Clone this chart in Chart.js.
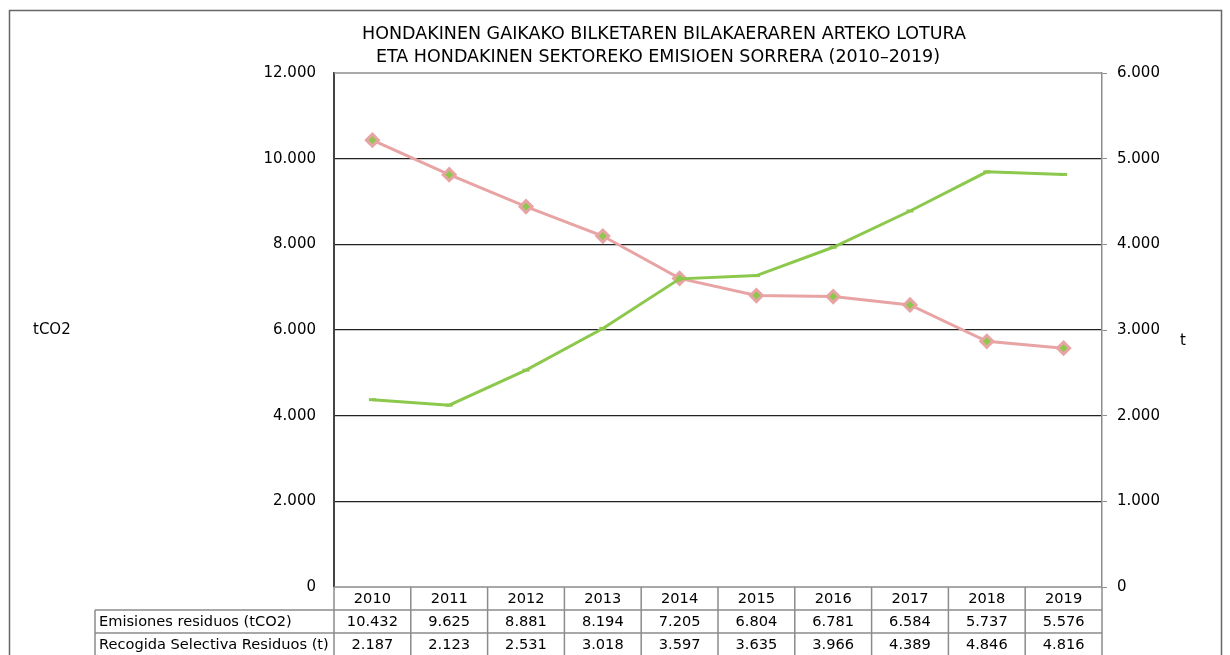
<!DOCTYPE html>
<html>
<head>
<meta charset="utf-8">
<script src="https://cdn.jsdelivr.net/npm/chart.js@4/dist/chart.umd.min.js"></script>
<style>
  html, body { margin: 0; padding: 0; background: #fff; }
  #wrap { width: 1230px; height: 655px; position: relative; }
</style>
</head>
<body>
<div id="wrap"><canvas id="chart" width="1230" height="655"></canvas></div>
<script>
/* ── DATA ─────────────────────────────────── */
const years = ['2010', '2011', '2012', '2013', '2014', '2015', '2016', '2017', '2018', '2019'];
const emisiones = [10432, 9625, 8881, 8194, 7205, 6804, 6781, 6584, 5737, 5576];
const recogida  = [2187, 2123, 2531, 3018, 3597, 3635, 3966, 4389, 4846, 4816];
const emisionesLabel = 'Emisiones residuos (tCO2)';
const recogidaLabel  = 'Recogida Selectiva Residuos (t)';
const titleLines = [
    'HONDAKINEN GAIKAKO BILKETAREN BILAKAERAREN ARTEKO LOTURA',
    'ETA HONDAKINEN SEKTOREKO EMISIOEN SORRERA (2010–2019)'
];

const FONT = '"DejaVu Sans", sans-serif';
const PINK  = '#e8a4a4';
const GREEN = '#8cc84b';

const fmt = v => Number(v).toLocaleString('de-DE');

/* ── DECORATIONS: frame, title, axis titles, data table ── */
const decorPlugin = {
    id: 'decor',
    beforeDraw(chart) {
        const ctx = chart.ctx;
        ctx.save();
        ctx.fillStyle = '#fff';
        ctx.fillRect(0, 0, chart.width, chart.height);
        ctx.strokeStyle = '#666';
        ctx.lineWidth = 1.5;
        ctx.strokeRect(9.5, 10.5, 1212, 700);
        ctx.restore();
    },
    afterDraw(chart) {
        const ctx = chart.ctx;
        const area = chart.chartArea;
        const xs = chart.scales.x;
        ctx.save();

        // title
        ctx.fillStyle = '#000';
        ctx.font = '17.5px ' + FONT;
        ctx.textAlign = 'center';
        ctx.textBaseline = 'middle';
        ctx.fillText(titleLines[0], 664, 34);
        ctx.fillText(titleLines[1], 658, 57);

        // axis titles
        ctx.font = '15px ' + FONT;
        ctx.textAlign = 'left';
        ctx.fillText('tCO2', 33, 330);
        ctx.fillText('t', 1180, 341);

        // table
        const colW = (area.right - area.left) / years.length;
        const rowH = 23;
        const top = area.bottom;
        const labelLeft = 95;
        ctx.strokeStyle = '#8c8c8c';
        ctx.lineWidth = 1.5;
        ctx.beginPath();
        ctx.moveTo(area.left, top); ctx.lineTo(area.right, top);
        for (let r = 1; r <= 2; r++) {
            ctx.moveTo(labelLeft, top + r * rowH); ctx.lineTo(area.right, top + r * rowH);
        }
        ctx.moveTo(labelLeft, top + rowH); ctx.lineTo(labelLeft, chart.height);
        for (let i = 0; i <= years.length; i++) {
            const x = area.left + i * colW;
            ctx.moveTo(x, top); ctx.lineTo(x, chart.height);
        }
        ctx.stroke();

        ctx.font = '14.6px ' + FONT;
        ctx.fillStyle = '#000';
        ctx.textAlign = 'center';
        years.forEach((y, i) => {
            const cx = xs.getPixelForValue(i);
            ctx.fillText(y, cx, top + rowH / 2 + 1);
            ctx.fillText(fmt(emisiones[i]), cx, top + rowH * 1.5 + 1);
            ctx.fillText(fmt(recogida[i]), cx, top + rowH * 2.5 + 1);
        });
        ctx.textAlign = 'left';
        ctx.fillText(emisionesLabel, labelLeft + 4, top + rowH * 1.5 + 1);
        ctx.fillText(recogidaLabel, labelLeft + 4, top + rowH * 2.5 + 1);

        // top frame of plot area
        ctx.strokeStyle = '#8c8c8c';
        ctx.lineWidth = 1.5;
        ctx.beginPath();
        ctx.moveTo(area.left, area.top); ctx.lineTo(area.right, area.top);
        ctx.stroke();
        ctx.restore();
    }
};

new Chart(document.getElementById('chart'), {
    type: 'line',
    data: {
        labels: years,
        datasets: [
            {
                label: recogidaLabel,
                data: recogida,
                yAxisID: 'y2',
                borderColor: GREEN,
                backgroundColor: GREEN,
                borderWidth: 3,
                pointStyle: 'line',
                pointRadius: 3.5,
                pointBorderWidth: 3,
                pointBorderColor: GREEN,
                tension: 0
            },
            {
                label: emisionesLabel,
                data: emisiones,
                yAxisID: 'y',
                borderColor: PINK,
                backgroundColor: GREEN,
                borderWidth: 3,
                pointStyle: 'rectRot',
                pointRadius: 6,
                pointBorderWidth: 3,
                pointBorderColor: PINK,
                pointBackgroundColor: GREEN,
                tension: 0
            }
        ]
    },
    plugins: [decorPlugin],
    options: {
        responsive: false,
        animation: false,
        layout: { padding: { left: 0, right: 0, top: 73, bottom: 68 } },
        plugins: {
            legend: { display: false },
            tooltip: { enabled: false }
        },
        scales: {
            x: {
                display: false,
                offset: true
            },
            y: {
                position: 'left',
                min: 0, max: 12000,
                afterFit(scale) { scale.width = 334; },
                border: { color: '#444', width: 2 },
                grid: {
                    drawTicks: false,
                    color: ctx => (ctx.tick && (ctx.tick.value === 12000 || ctx.tick.value === 0)) ? 'rgba(0,0,0,0)' : '#222',
                    lineWidth: 1.2
                },
                ticks: {
                    stepSize: 2000,
                    padding: 18,
                    color: '#000',
                    font: { family: FONT, size: 15 },
                    callback: v => fmt(v)
                }
            },
            y2: {
                position: 'right',
                min: 0, max: 6000,
                afterFit(scale) { scale.width = 128; },
                border: { color: '#8c8c8c', width: 1.5 },
                grid: {
                    drawOnChartArea: false,
                    drawTicks: true,
                    tickLength: 5,
                    color: '#8c8c8c'
                },
                ticks: {
                    stepSize: 1000,
                    padding: 10,
                    color: '#000',
                    font: { family: FONT, size: 15 },
                    callback: v => fmt(v)
                }
            }
        }
    }
});
</script>
</body>
</html>
